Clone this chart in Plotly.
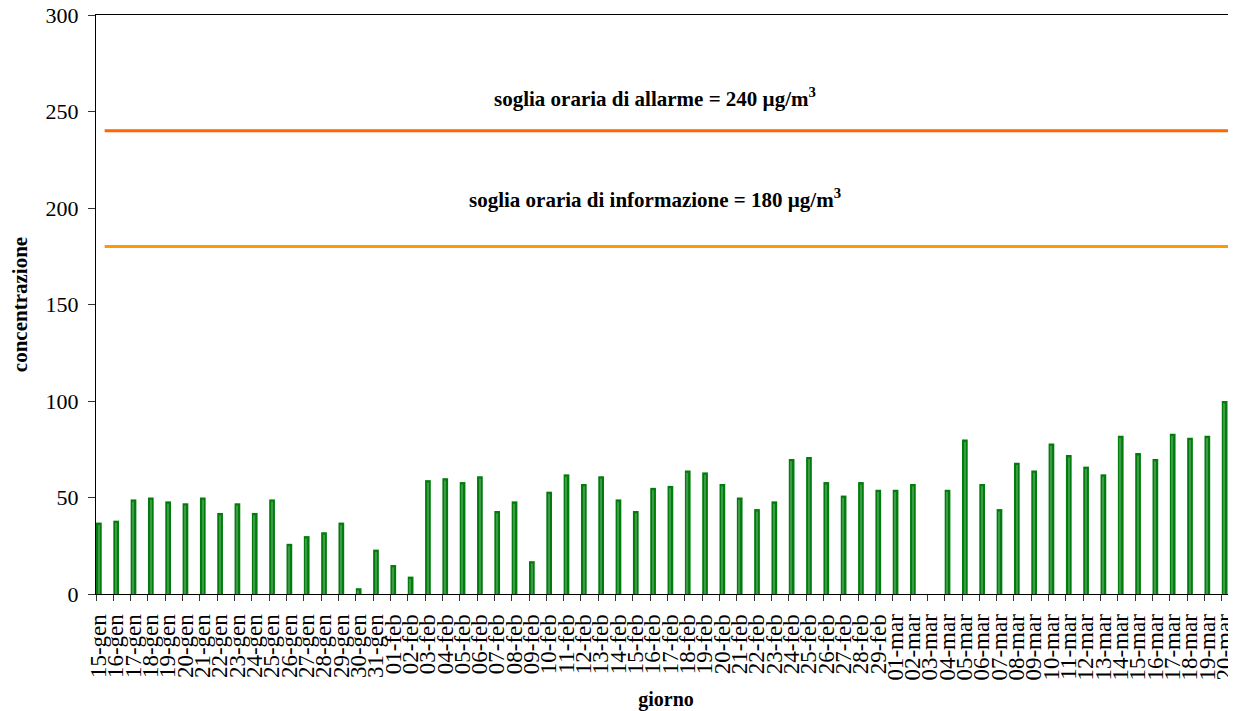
import plotly.graph_objects as go

# giorni (gen / feb / mar)
giorni = ([f"{d:02d}-gen" for d in range(15, 32)]
          + [f"{d:02d}-feb" for d in range(1, 30)]
          + [f"{d:02d}-mar" for d in range(1, 21)])

# concentrazione giornaliera (03-mar mancante)
concentrazione = [
    37, 38, 49, 50, 48, 47, 50, 42, 47, 42, 49, 26, 30, 32, 37, 3, 23,
    15, 9, 59, 60, 58, 61, 43, 48, 17, 53, 62, 57, 61, 49, 43, 55, 56, 64,
    63, 57, 50, 44, 48, 70, 71, 58, 51, 58, 54,
    54, 57, None, 54, 80, 57, 44, 68, 64, 78, 72, 66, 62, 82, 73, 70, 83,
    81, 82, 100,
]

soglia_allarme = 240
soglia_informazione = 180

FONT = "Liberation Serif"

fig = go.Figure()

fig.add_trace(go.Bar(
    x=giorni, y=concentrazione,
    width=0.33, offset=-0.5,
    marker=dict(color="#007d0a", line=dict(width=0)),
    showlegend=False,
))
# riflesso chiaro sulle barre
fig.add_trace(go.Bar(
    x=giorni, y=[v - 1.2 if v else None for v in concentrazione],
    width=0.07, offset=-0.5 + 0.12,
    marker=dict(color="#3c9a48", line=dict(width=0)),
    showlegend=False, hoverinfo="skip",
))

fig.add_trace(go.Scatter(
    x=[giorni[0], giorni[-1]], y=[soglia_allarme] * 2,
    mode="lines", line=dict(color="#ff6600", width=3),
    showlegend=False,
))
fig.add_trace(go.Scatter(
    x=[giorni[0], giorni[-1]], y=[soglia_informazione] * 2,
    mode="lines", line=dict(color="#ff9900", width=3),
    showlegend=False,
))

fig.add_annotation(
    x=0.49, xref="paper", y=257.5, yref="y",
    text=f"<b>soglia oraria di allarme = {soglia_allarme} µg/m<sup>3</sup></b>",
    showarrow=False, font=dict(family=FONT, size=21, color="black"),
)
fig.add_annotation(
    x=0.49, xref="paper", y=205, yref="y",
    text=f"<b>soglia oraria di informazione = {soglia_informazione} µg/m<sup>3</sup></b>",
    showarrow=False, font=dict(family=FONT, size=21, color="black"),
)

# la pagina aggiunge 8px di margine al body
fig.update_layout(
    width=1228, height=703,
    margin=dict(l=88, r=0, t=7, b=117),
    paper_bgcolor="white", plot_bgcolor="white",
    font=dict(family=FONT, color="black"),
    barmode="overlay",
    xaxis=dict(
        type="category", range=[-0.5, 65.32], automargin=False,
        tickmode="array", tickvals=giorni, ticktext=giorni,
        tickson="boundaries", ticks="outside", ticklen=6, tickcolor="#333",
        tickangle=-90, tickfont=dict(size=23),
        ticklabelstandoff=10, ticklabelshift=-6, ticklabeloverflow="allow",
        showline=True, linecolor="black", linewidth=1, mirror=True,
        showgrid=False, zeroline=False,
        title=dict(text="<b>giorno</b>", font=dict(size=20), standoff=12),
    ),
    yaxis=dict(
        range=[0, 300], dtick=50, automargin=False,
        ticks="outside", ticklen=7, tickcolor="#333",
        tickfont=dict(size=22), ticklabelstandoff=5, ticklabeloverflow="allow",
        showline=True, linecolor="black", linewidth=1,
        showgrid=False, zeroline=False,
        title=dict(text="<b>concentrazione</b>", font=dict(size=21), standoff=20),
    ),
)

fig.write_html("out.html")
